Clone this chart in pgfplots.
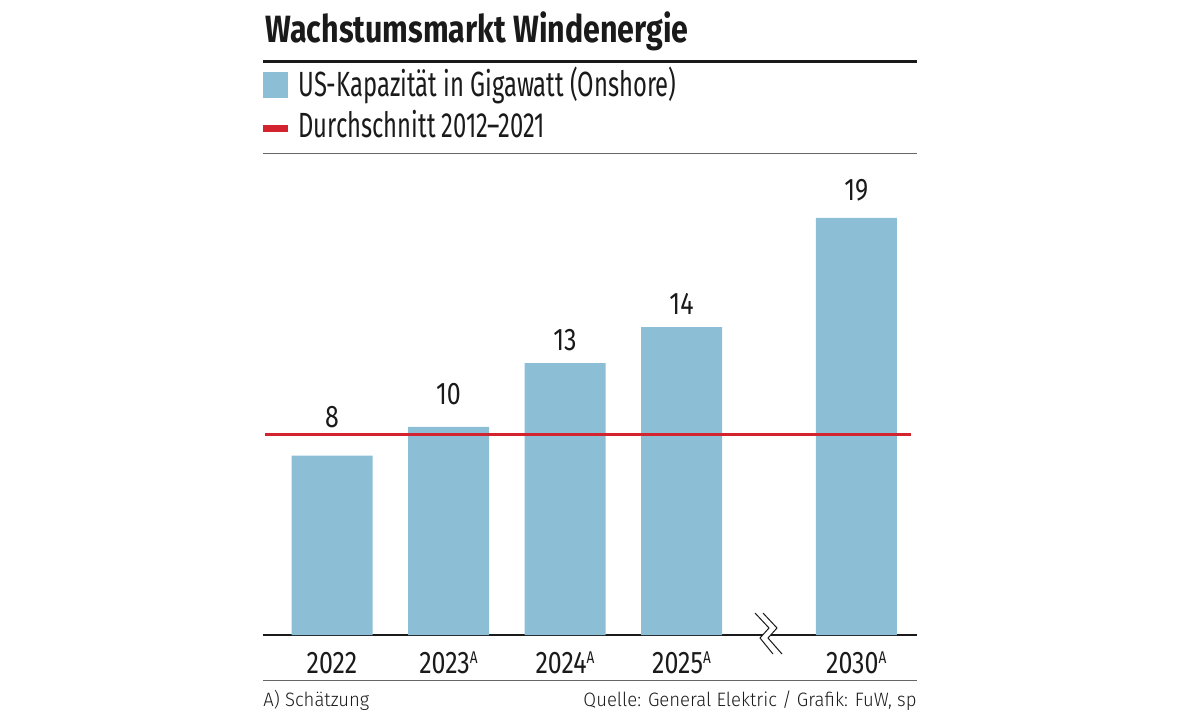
\documentclass[border=0pt]{standalone}
\usepackage{fontspec}
\setmainfont{Fira Sans}[FakeStretch=0.68]
\newfontfamily\numfont{Fira Sans}[FakeStretch=0.8]
\newfontfamily\footfont{Fira Sans Light}[FakeStretch=0.955]
\usepackage{pgfplots}
\pgfplotsset{compat=1.18}
\definecolor{barblue}{HTML}{8CBED6}
\definecolor{avgred}{HTML}{D2232E}
\definecolor{ink}{HTML}{1A1A1A}
\definecolor{rule}{HTML}{666666}
\newcommand\supA{\raisebox{4.9pt}{\fontsize{8.5}{9}\selectfont A}}
\begin{document}
\begin{tikzpicture}
\path (0,0) rectangle (589.5pt,356.5pt);
% header, legend and footer (pixel grid, y downwards)
\begin{scope}[shift={(0,356.5pt)}, x=0.5pt, y=-0.5pt]
  \node[anchor=base west, inner sep=0, text=ink, font=\fontsize{19}{21}\numfont\bfseries] at (265,43) {Wachstumsmarkt Windenergie};
  \fill[ink] (263,60) rectangle (917,63.5);
  \fill[barblue] (263,72) rectangle (288,98);
  \node[anchor=base west, inner sep=0, text=ink, font=\fontsize{17.5}{20}\selectfont] at (298,97) {US-Kapazität in Gigawatt (Onshore)};
  \fill[avgred] (263,125.5) rectangle (288,132);
  \node[anchor=base west, inner sep=0, text=ink, font=\fontsize{17.5}{20}\selectfont] at (298,138) {Durchschnitt 2012–2021};
  \draw[rule, line width=0.5pt] (263,153.3) -- (917,153.3);
  \draw[rule, line width=0.5pt] (263,680.5) -- (917,680.5);
  \node[anchor=base west, inner sep=0, text=ink, font=\fontsize{9.7}{11}\footfont] at (263,706) {A) Schätzung};
  \node[anchor=base east, inner sep=0, text=ink, font=\fontsize{9.7}{11}\footfont] at (917,706) {Quelle: General Elektric / Grafik: FuW, sp};
\end{scope}
\begin{axis}[
    at={(166pt,39pt)}, anchor=origin,
    x=58.25pt, y=10.975pt,
    xmin=-0.592, xmax=5.021, ymin=0, ymax=21,
    axis x line=bottom, axis y line=none,
    axis line style={ink, line width=1pt, -},
    xtick={0,1,2,3,4.5},
    xticklabels={2022, 2023\supA, 2024\supA, 2025\supA, 2030\supA},
    major tick length=0pt,
    xticklabel style={anchor=base, yshift=-19pt, text=ink, font=\fontsize{15.6}{18}\numfont},
    ytick=\empty,
    clip=false,
  ]
  \addplot[ybar, bar width=40.5pt, fill=barblue, draw=none]
    coordinates {(0,8.17) (1,9.48) (2,12.39) (3,14.03) (4.5,19.0)};
  \addplot[avgred, line width=1.5pt]
    coordinates {(-0.575,9.13) (4.97,9.13)};
  \addplot[draw=none, mark=none, nodes near coords, point meta=explicit symbolic,
    every node near coord/.append style={inner sep=0pt, text=ink, font=\fontsize{15.6}{18}\numfont}]
    coordinates {(0,9.43)[8] (1,10.48)[10] (2,12.94)[13] (3,14.58)[14] (4.5,19.73)[19]};
\end{axis}
% axis break marker
\begin{scope}[shift={(0,356.5pt)}, x=0.5pt, y=-0.5pt]
  \fill[white] (755,613) -- (769,628) -- (760,638) -- (773,654) -- (782,654) -- (768,638) -- (777,628) -- (763,613) -- cycle;
  \draw[ink, line width=0.5pt] (755,613) -- (769,628) -- (760,638) -- (773,654);
  \draw[ink, line width=0.5pt] (763,613) -- (777,628) -- (768,638) -- (782,654);
\end{scope}
\end{tikzpicture}
\end{document}
